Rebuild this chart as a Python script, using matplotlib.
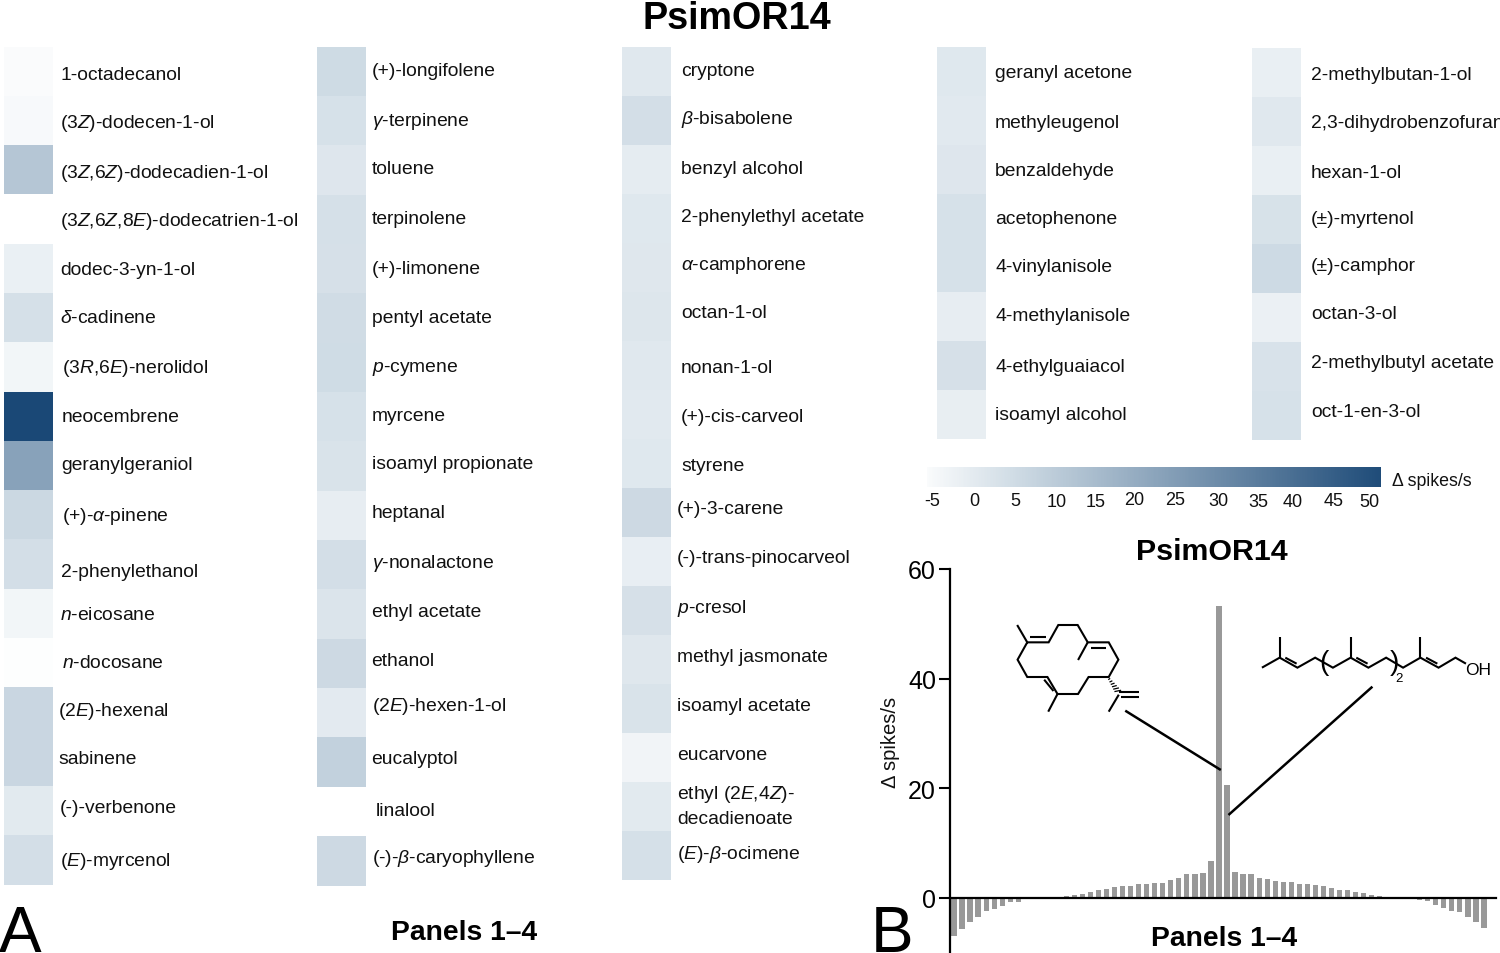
import numpy as np
import matplotlib
matplotlib.use("Agg")
import matplotlib.pyplot as plt
from matplotlib.colors import LinearSegmentedColormap, Normalize

plt.rcParams.update({
    "font.family": ["Liberation Sans", "DejaVu Sans"],
    "mathtext.fontset": "custom",
    "mathtext.rm": "Liberation Sans",
    "mathtext.it": "Liberation Sans:italic",
    "mathtext.bf": "Liberation Sans:bold",
    "mathtext.default": "it",
})

# ---------- data ----------
labels_1 = ["1-octadecanol", r"(3$\mathit{Z}$)-dodecen-1-ol", r"(3$\mathit{Z}$,6$\mathit{Z}$)-dodecadien-1-ol",
            r"(3$\mathit{Z}$,6$\mathit{Z}$,8$\mathit{E}$)-dodecatrien-1-ol", "dodec-3-yn-1-ol", r"$\mathit{\delta}$-cadinene",
            r"(3$\mathit{R}$,6$\mathit{E}$)-nerolidol", "neocembrene", "geranylgeraniol", r"(+)-$\mathit{\alpha}$-pinene",
            "2-phenylethanol", r"$\mathit{n}$-eicosane", r"$\mathit{n}$-docosane", r"(2$\mathit{E}$)-hexenal",
            "sabinene", "(-)-verbenone", r"($\mathit{E}$)-myrcenol"]
values_1 = [-5.5, -4.7, 12.4, -7, -1.6, 4.2, -3.7, 53.3, 24, 6.6, 4.5, -3.7, -6.5, 7.1, 7.1, 0.5, 4.5]

labels_2 = ["(+)-longifolene", r"$\mathit{\gamma}$-terpinene", "toluene", "terpinolene", "(+)-limonene", "pentyl acetate",
            r"$\mathit{p}$-cymene", "myrcene", "isoamyl propionate", "heptanal", r"$\mathit{\gamma}$-nonalactone",
            "ethyl acetate", "ethanol", r"(2$\mathit{E}$)-hexen-1-ol", "eucalyptol", "linalool",
            r"(-)-$\mathit{\beta}$-caryophyllene"]
values_2 = [5.8, 3.7, 1.8, 4.2, 4.0, 5.3, 5.5, 3.7, 2.9, -0.5, 4.7, 2.4, 6.3, 0.3, 9.0, -7, 6.3]

labels_3 = ["cryptone", r"$\mathit{\beta}$-bisabolene", "benzyl alcohol", "2-phenylethyl acetate", r"$\mathit{\alpha}$-camphorene",
            "octan-1-ol", "nonan-1-ol", "(+)-cis-carveol", "styrene", "(+)-3-carene", "(-)-trans-pinocarveol",
            r"$\mathit{p}$-cresol", "methyl jasmonate", "isoamyl acetate", "eucarvone",
            "ethyl (2$\\mathit{E}$,4$\\mathit{Z}$)-\ndecadienoate", r"($\mathit{E}$)-$\mathit{\beta}$-ocimene"]
values_3 = [1.0, 4.5, 0.0, 1.3, 1.6, 2.1, 1.0, 0.8, 1.3, 6.3, -1.0, 4.0, 1.6, 2.9, -3.2, 0.5, 4.2]

labels_4 = ["geranyl acetone", "methyleugenol", "benzaldehyde", "acetophenone", "4-vinylanisole",
            "4-methylanisole", "4-ethylguaiacol", "isoamyl alcohol"]
values_4 = [1.3, 0.8, 1.8, 3.7, 3.7, -0.5, 4.0, -0.8]

labels_5 = ["2-methylbutan-1-ol", "2,3-dihydrobenzofuran", "hexan-1-ol", "(±)-myrtenol", "(±)-camphor",
            "octan-3-ol", "2-methylbutyl acetate", "oct-1-en-3-ol"]
values_5 = [-1.3, 1.0, -1.3, 3.4, 6.0, -1.8, 3.2, 3.7]

bar_values = [-6.9, -5.6, -4.4, -3.5, -2.3, -2.0, -1.4, -0.8, -0.7, 0, 0, 0, 0,
              0.2, 0.3, 0.55, 0.8, 1.1, 1.4, 1.6, 2.0, 2.2, 2.2, 2.5, 2.6, 2.8, 2.8, 3.2, 3.7, 4.3, 4.4, 4.5, 6.8,
              53.3, 20.6,
              4.7, 4.4, 4.3, 3.7, 3.5, 3.1, 2.9, 2.9, 2.6, 2.5, 2.3, 2.2, 1.8, 1.5, 1.4, 1.1, 0.9, 0.5, 0.4, 0.2,
              0, 0, 0, -0.3, -0.6, -1.2, -1.8, -2.3, -2.6, -3.5, -4.4, -5.5]

cbar_ticks = [-5, 0, 5, 10, 15, 20, 25, 30, 35, 40, 45, 50]

# ---------- layout (pixels of the 1500x954 canvas) ----------
W, H = 1500, 954
cols = [
    (labels_1, values_1, (4, 53), (47.5, 885.5),
     [60.5, 60.5, 60.5, 60.5, 60.5, 60.5, 61.5, 61.5, 61.5, 61.5, 60.5, 60.5, 61.5, 58.5, 58.5, 59.5, 59.5],
     [79, 127, 177, 225, 275, 323, 373, 422, 470, 521, 577, 620, 668, 716, 764, 813, 866]),
    (labels_2, values_2, (317, 366), (47.5, 886.5),
     [371.5] * 15 + [376, 371.5],
     [76, 125, 174, 223, 274, 323, 372, 421, 469, 518, 568, 617, 666, 711, 764, 816, 863]),
    (labels_3, values_3, (622, 671), (47.5, 880.5),
     [681] * 9 + [677] * 8,
     [75, 124, 173, 222, 270, 318, 373, 422, 471, 514, 563, 613, 662, 711, 760, 799, 859]),
    (labels_4, values_4, (937, 986), (47.5, 439.5),
     [995] * 8, [77, 127, 175, 224, 272, 321, 372, 420]),
    (labels_5, values_5, (1252, 1301), (48.5, 440.5),
     [1311] * 8, [79, 128, 177, 224, 271, 319, 368, 417]),
]
cbar_px = (927, 1381, 468, 488)
cbar_lim = (-5.6, 51.5)
cbar_label_x = [932, 974, 1015, 1057, 1096, 1134, 1175, 1218, 1258, 1293, 1334, 1369]
cbar_label_y = [506, 506, 506, 507, 507, 505, 505, 506, 507, 507, 506, 507]

cmap = LinearSegmentedColormap.from_list("blues", [(0, "#ffffff"), (0.2, "#d1dde6"), (1, "#1a4876")])
norm = Normalize(-7, 53)


def px_axes(fig, x0, x1, y0, y1, **kw):
    return fig.add_axes([x0 / W, 1 - y1 / H, (x1 - x0) / W, (y1 - y0) / H], **kw)


fig = plt.figure(figsize=(15, 9.54), dpi=100, facecolor="white")

# heatmap columns
for labels, values, xr, yr, lx, ly in cols:
    ax = px_axes(fig, xr[0], xr[1], yr[0], yr[1])
    ax.pcolormesh([0, 1], np.arange(len(values) + 1), np.array(values)[:, None], cmap=cmap, norm=norm)
    ax.set_ylim(len(values), 0)
    ax.axis("off")

# colour bar
cax = px_axes(fig, cbar_px[0], cbar_px[1], cbar_px[2], cbar_px[3])
cax.imshow(np.linspace(cbar_lim[0], cbar_lim[1], 400)[None, :], cmap=cmap, norm=norm, aspect="auto",
           extent=(cbar_lim[0], cbar_lim[1], 0, 1))
cax.axis("off")

# bar chart
bax = px_axes(fig, 950, 1496, 570, 953)
x = np.arange(len(bar_values))
bax.bar(x, bar_values, width=0.65, color="#999999", linewidth=0, zorder=1)
bax.set_xlim(-0.5, 67.5)
bax.set_ylim(-9.85, 60)
bax.set_yticks([0, 20, 40, 60])
bax.set_xticks([])
bax.tick_params(axis="y", labelsize=18, length=8, width=1.5, pad=2)
for s in ("top", "right"):
    bax.spines[s].set_visible(False)
bax.spines["left"].set_linewidth(1.6)
bax.spines["bottom"].set_linewidth(1.6)
bax.spines["bottom"].set_position(("data", 0))
bax.spines["bottom"].set_zorder(3)
bax.patch.set_alpha(0)

# overlay in pixel coordinates
ov = fig.add_axes([0, 0, 1, 1], zorder=5)
ov.set_xlim(0, W)
ov.set_ylim(H, 0)
ov.axis("off")

LABEL_FS = 13.9
for labels, values, xr, yr, lx, ly in cols:
    for lab, tx, ty in zip(labels, lx, ly):
        for k, part in enumerate(lab.split("\n")):
            ov.text(tx, ty + 0.5 + 24.5 * k, part, fontsize=LABEL_FS, color="#111111", ha="left", va="baseline")

for v, tx, ty in zip(cbar_ticks, cbar_label_x, cbar_label_y):
    ov.text(tx, ty, str(v), fontsize=13, ha="center", va="baseline", color="#111111")
ov.text(1392, 486, "Δ spikes/s", fontsize=12.8, ha="left", va="baseline", color="#111111")

ov.text(737, 29, "PsimOR14", fontsize=27.2, fontweight="bold", ha="center", va="baseline")
ov.text(1212, 560, "PsimOR14", fontsize=21.9, fontweight="bold", ha="center", va="baseline")
ov.text(464.5, 940, "Panels 1–4", fontsize=20.3, fontweight="bold", ha="center", va="baseline")
ov.text(1224.5, 946, "Panels 1–4", fontsize=20.3, fontweight="bold", ha="center", va="baseline")
ov.text(-1, 952, "A", fontsize=46, ha="left", va="baseline")
ov.text(871, 952, "B", fontsize=46, ha="left", va="baseline")
ov.text(891, 742, "Δ spikes/s", fontsize=14.6, rotation=90, ha="center", va="center", color="#111111")


# chemical structures (drawing coordinates of the annotation, not data)
def zx(v):
    return 870 + v / 2.48


def zy(v):
    return 530 + v / 3.0


def stroke(points, lw=1.5):
    p = np.array(points, float)
    ov.plot(zx(p[:, 0]), zy(p[:, 1]), color="black", lw=lw, solid_capstyle="butt", solid_joinstyle="miter")


ring = [(390, 340), (443, 340), (467, 288), (515, 288), (540, 340), (592, 340), (616, 392), (592, 444),
        (542, 444), (516, 495), (465, 495), (440, 444), (390, 444), (366, 392), (390, 340)]
stroke(ring)
stroke([(365, 288), (390, 340)])
stroke([(397, 325), (437, 325)])
stroke([(547, 356), (586, 356)])
stroke([(540, 340), (516, 393)])
stroke([(432, 452), (455, 486)])
stroke([(465, 495), (442, 548)])
stroke([(617, 490), (668, 490)])
stroke([(622, 504), (668, 504)])
stroke([(617, 497), (592, 548)])
for t in np.linspace(0.05, 0.9, 6):
    hx, hy = 592 + 25 * t, 448 + 42 * t
    hw = 2 + 7 * t
    stroke([(hx - hw, hy + 2), (hx + hw, hy - 2)], lw=0.9)

chain = [(972, 416), (1016, 386), (1060, 416), (1104, 386), (1148, 416), (1192, 386), (1236, 416), (1280, 386),
         (1322, 416), (1365, 386), (1410, 416), (1452, 386), (1478, 404)]
stroke(chain)
stroke([(1016, 386), (1016, 325)])
stroke([(1192, 386), (1192, 325)])
stroke([(1365, 386), (1365, 325)])
stroke([(1030, 386), (1058, 404)])
stroke([(1206, 386), (1234, 404)])
stroke([(1379, 386), (1407, 404)])
ov.text(zx(1127), zy(400), "(", fontsize=20, ha="center", va="center", color="black")
ov.text(zx(1301), zy(400), ")", fontsize=20, ha="center", va="center", color="black")
ov.text(zx(1311), zy(455), "2", fontsize=9.5, ha="center", va="baseline")
ov.text(zx(1475), zy(435), "OH", fontsize=12.5, ha="left", va="baseline")

stroke([(633, 545), (870, 723)], lw=1.8)
stroke([(1246, 473), (889, 858)], lw=1.8)

fig.savefig("out.png", dpi=100, facecolor="white")
